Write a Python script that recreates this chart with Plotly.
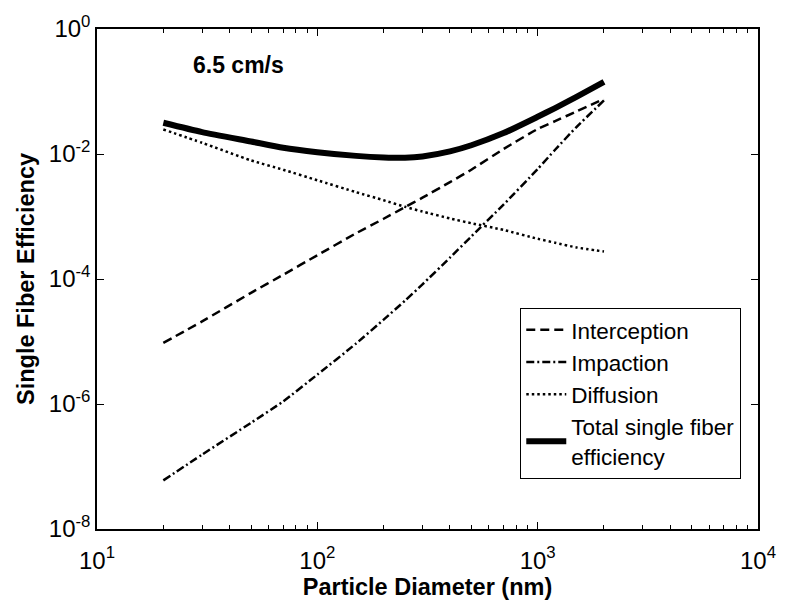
import plotly.graph_objects as go

# Particle diameters (nm) at which the efficiencies are evaluated
diameter_nm = [20, 30, 50, 70, 100, 150, 200, 250, 300, 400, 500, 700,
               1000, 1200, 1500, 2000]

# Single fiber efficiency contributions at 6.5 cm/s face velocity
interception = [9.5e-6, 2.1e-5, 6.0e-5, 1.17e-4, 2.4e-4, 5.4e-4, 9.2e-4,
                1.41e-3, 2.0e-3, 3.55e-3, 5.6e-3, 1.2e-2, 2.51e-2,
                3.35e-2, 4.8e-2, 7.6e-2]
impaction = [6.0e-8, 1.55e-7, 5.0e-7, 1.1e-6, 2.95e-6, 9.3e-6, 2.24e-5,
             4.5e-5, 8.2e-5, 2.2e-4, 4.8e-4, 1.55e-3, 5.75e-3,
             1.17e-2, 2.7e-2, 7.2e-2]
diffusion = [2.47e-2, 1.51e-2, 7.9e-3, 5.6e-3, 3.8e-3, 2.45e-3, 1.82e-3,
             1.43e-3, 1.2e-3, 9.3e-4, 7.8e-4, 6.1e-4, 4.4e-4,
             3.8e-4, 3.2e-4, 2.75e-4]
total = [3.16e-2, 2.24e-2, 1.585e-2, 1.26e-2, 1.07e-2, 9.33e-3, 8.81e-3,
         8.71e-3, 9.12e-3, 1.1e-2, 1.38e-2, 2.16e-2, 3.94e-2,
         5.43e-2, 8.22e-2, 1.43e-1]

series_names = ["Interception", "Impaction", "Diffusion",
                "Total single fiber<br>efficiency"]

# Axis ticks (decades)
x_tick_vals = [1e1, 1e2, 1e3, 1e4]
x_tick_text = ["10<sup>1</sup>", "10<sup>2</sup>", "10<sup>3</sup>", "10<sup>4</sup>"]
y_tick_vals = [1e-8, 1e-6, 1e-4, 1e-2, 1e0]
y_tick_text = ["10<sup>-8</sup>", "10<sup>-6</sup>", "10<sup>-4</sup>",
               "10<sup>-2</sup>", "10<sup>0</sup>"]
x_minor_vals = [m * 10 ** e for e in range(1, 4) for m in range(2, 10)]

FONT = "Liberation Sans, Arial, Helvetica, sans-serif"

fig = go.Figure()
fig.add_trace(go.Scatter(x=diameter_nm, y=interception, name=series_names[0],
                         mode="lines", line_shape="spline",
                         line=dict(color="black", width=2.5, dash="9px,5px",
                                   smoothing=0.5)))
fig.add_trace(go.Scatter(x=diameter_nm, y=impaction, name=series_names[1],
                         mode="lines", line_shape="spline",
                         line=dict(color="black", width=2.5,
                                   dash="8px,3px,2px,3px", smoothing=0.5)))
fig.add_trace(go.Scatter(x=diameter_nm, y=diffusion, name=series_names[2],
                         mode="lines", line_shape="spline",
                         line=dict(color="black", width=2.5, dash="2.5px,3px",
                                   smoothing=0.5)))
fig.add_trace(go.Scatter(x=diameter_nm, y=total, name=series_names[3],
                         mode="lines", line_shape="spline",
                         line=dict(color="black", width=6, smoothing=0.6)))

axis_common = dict(
    showline=True, linecolor="black", linewidth=1.5, mirror="ticks",
    ticks="inside", tickcolor="black", tickwidth=1,
    showgrid=False, zeroline=False,
    tickmode="array",
    tickfont=dict(family=FONT, size=24, color="black"),
)

fig.update_xaxes(type="log", range=[1, 4], tickvals=x_tick_vals,
                 ticktext=x_tick_text, ticklen=7, ticklabelstandoff=9,
                 minor=dict(tickvals=x_minor_vals, ticks="inside", ticklen=4,
                            tickcolor="black", tickwidth=1, showgrid=False),
                 title=dict(text="<b>Particle Diameter (nm)</b>",
                            font=dict(family=FONT, size=23.5, color="black"),
                            standoff=6),
                 **axis_common)
fig.update_yaxes(type="log", range=[-8, 0], tickvals=y_tick_vals,
                 ticktext=y_tick_text, ticklen=7,
                 title=dict(text="<b>Single Fiber Efficiency</b>",
                            font=dict(family=FONT, size=23.5, color="black"),
                            standoff=8),
                 **axis_common)

fig.add_annotation(text="<b>6.5 cm/s</b>", xref="paper", yref="paper",
                   x=0.1416, y=0.927, xanchor="left", yanchor="middle",
                   showarrow=False,
                   font=dict(family=FONT, size=23, color="black"))

fig.update_layout(
    width=788, height=608,
    margin=dict(l=97, r=20, t=25, b=77),
    paper_bgcolor="white", plot_bgcolor="white",
    showlegend=True,
    legend=dict(x=0.9747, y=0.4427, xanchor="right", yanchor="top",
                bgcolor="white", bordercolor="black", borderwidth=1,
                font=dict(family=FONT, size=22.5, color="black"),
                tracegroupgap=0, itemwidth=40),
)

fig.write_html("out.html")
